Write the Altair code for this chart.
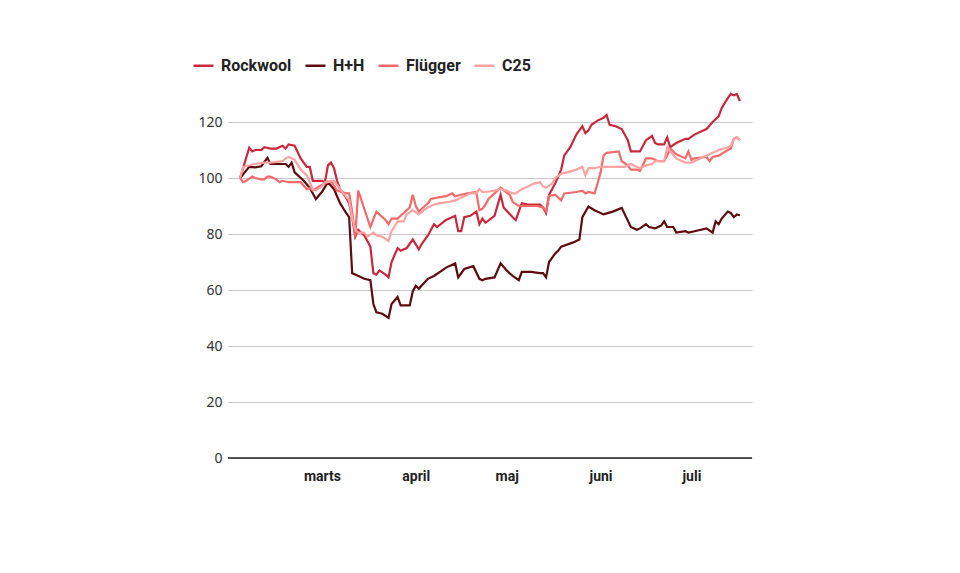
import altair as alt
import pandas as pd

series_names = ["Rockwool", "H+H", "Flügger", "C25"]
series_colors = ["#c8283c", "#5e0b0f", "#f46a6a", "#fba3a3"]

month_labels = ["jan", "feb", "marts", "april", "maj", "juni", "juli"]

rockwool_dates = ["02-03", "02-06", "02-07", "02-08", "02-10", "02-11", "02-13", "02-15", "02-17", "02-18",
                  "02-19", "02-21", "02-23", "02-25", "02-26", "02-27", "03-01", "03-02", "03-03", "03-04",
                  "03-05", "03-06", "03-07", "03-09", "03-10", "03-11", "03-12", "03-13", "03-15", "03-17",
                  "03-18", "03-19", "03-20", "03-22", "03-23", "03-24", "03-26", "03-27", "03-29", "03-31",
                  "04-02", "04-03", "04-05", "04-07", "04-08", "04-11", "04-13", "04-14", "04-15", "04-16",
                  "04-17", "04-19", "04-21", "04-22", "04-23", "04-24", "04-27", "04-29", "04-30", "05-03",
                  "05-04", "05-06", "05-08", "05-12", "05-13", "05-14", "05-15", "05-17", "05-19", "05-20",
                  "05-22", "05-24", "05-26", "05-27", "05-28", "05-29", "05-31", "06-02", "06-03", "06-04",
                  "06-06", "06-08", "06-10", "06-11", "06-12", "06-14", "06-16", "06-18", "06-19", "06-20",
                  "06-22", "06-23", "06-24", "06-26", "06-29", "06-30", "07-02", "07-04", "07-06", "07-08",
                  "07-10", "07-11", "07-13", "07-14", "07-15", "07-16", "07-17"]
rockwool_values = [100, 110.8, 109.5, 110, 110, 111, 110.5, 110.5, 111.5, 110.5,
                   112, 111.5, 107, 104, 104, 99, 99, 98.5, 104.5, 105.5,
                   103.5, 99, 96, 93, 91, 86, 79, 81.5, 79.5, 75.5,
                   66, 65.5, 67, 65.5, 64.5, 70, 75, 74, 75, 78,
                   74.5, 76.5, 79.5, 83.5, 82.5, 85, 86, 86.5, 81, 81,
                   86, 86.5, 88, 83.5, 85.5, 84, 86.5, 94, 89.5, 86,
                   85, 91, 90.5, 90.5, 89.5, 87.5, 94, 98, 103, 108,
                   111, 115.5, 118.5, 116, 117, 119, 120.5, 121.5, 122.5, 119,
                   118.5, 117.5, 113.5, 109.5, 109.5, 109.5, 113.5, 115, 112.5, 112,
                   112, 114.5, 111, 112.5, 114, 114, 115.5, 116.5, 117.5, 120,
                   122, 125, 128.5, 130, 129.5, 130, 127.5]

hh_dates = ["02-03", "02-06", "02-08", "02-10", "02-12", "02-13", "02-18", "02-19", "02-20", "02-21",
            "02-24", "02-26", "02-28", "03-01", "03-03", "03-05", "03-07", "03-09", "03-10", "03-11",
            "03-12", "03-15", "03-17", "03-18", "03-19", "03-21", "03-23", "03-24", "03-26", "03-27",
            "03-30", "03-31", "04-01", "04-02", "04-05", "04-07", "04-11", "04-14", "04-15", "04-17",
            "04-20", "04-22", "04-23", "04-24", "04-27", "04-29", "05-01", "05-03", "05-05", "05-06",
            "05-09", "05-12", "05-13", "05-14", "05-15", "05-17", "05-18", "05-19", "05-23", "05-25",
            "05-26", "05-28", "05-30", "06-02", "06-05", "06-08", "06-09", "06-11", "06-13", "06-14",
            "06-16", "06-17", "06-19", "06-21", "06-22", "06-23", "06-25", "06-26", "06-29", "06-30",
            "07-02", "07-06", "07-08", "07-09", "07-10", "07-11", "07-13", "07-14", "07-15", "07-16",
            "07-17"]
hh_values = [100, 104, 103.8, 104.2, 107.2, 105, 105, 104, 105.5, 102,
             99, 96.5, 92.5, 95, 98.5, 96, 91, 87.5, 86, 66,
             65.5, 64, 63.5, 55, 52, 51.5, 50, 55, 57.5, 54.5,
             54.5, 59.5, 61.5, 60.5, 64, 65, 68, 69.5, 64.5, 67.5,
             68.5, 64, 63.5, 64, 64.5, 69.5, 67, 65, 63.5, 66.5,
             66.5, 66, 66, 64.5, 70, 73, 74, 75.5, 77, 78,
             86, 89.8, 88.5, 87, 88, 89.3, 87, 82.5, 81.5, 82,
             83.5, 82.5, 82, 83, 84.5, 82.5, 82.5, 80.5, 81, 80.5,
             81, 82, 80.5, 84.5, 83.5, 85.5, 88, 87.5, 86, 87,
             86.7]

flugger_dates = ["02-03", "02-04", "02-05", "02-07", "02-08", "02-10", "02-11", "02-12", "02-13", "02-15",
                 "02-16", "02-17", "02-19", "02-23", "02-25", "02-26", "02-27", "02-29", "03-02", "03-04",
                 "03-06", "03-09", "03-10", "03-11", "03-12", "03-13", "03-17", "03-19", "03-22", "03-23",
                 "03-24", "03-26", "03-27", "03-30", "03-31", "04-01", "04-02", "04-03", "04-05", "04-06",
                 "04-08", "04-11", "04-13", "04-14", "04-16", "04-18", "04-21", "04-22", "04-23", "04-24",
                 "04-25", "04-27", "04-29", "05-02", "05-03", "05-05", "05-08", "05-11", "05-13", "05-14",
                 "05-15", "05-17", "05-19", "05-20", "05-24", "05-26", "05-27", "05-28", "05-30", "05-31",
                 "06-01", "06-02", "06-03", "06-07", "06-08", "06-10", "06-11", "06-13", "06-14", "06-16",
                 "06-18", "06-20", "06-22", "06-23", "06-24", "06-26", "06-29", "06-30", "07-01", "07-02",
                 "07-06", "07-07", "07-08", "07-10", "07-13", "07-14", "07-15", "07-16", "07-17"]
flugger_values = [100, 98.5, 99, 100.5, 100, 99.5, 99.5, 100.5, 100.5, 99.5,
                  98.5, 99, 98.5, 98.5, 96, 96.5, 95.5, 97, 98, 99,
                  95.5, 94.5, 94.5, 88, 79, 95.5, 82.5, 88, 85, 83.5,
                  85.5, 85.5, 86.5, 89.5, 94, 90, 88, 89, 91, 92.5,
                  93, 93.5, 94.5, 93.5, 94, 94.5, 95, 88.5, 89, 90.5,
                  92.5, 94.5, 96.5, 94, 91.5, 90, 90, 90, 89.5, 88,
                  93.5, 94, 92, 94.5, 95, 95.5, 94.5, 95, 94.5, 98,
                  102, 108, 109, 109.5, 106, 104.5, 103, 103, 102.5, 107,
                  107, 106, 106, 108, 110.5, 108.5, 107, 109.5, 106.5, 107,
                  107.5, 106, 107.5, 108, 110, 110.5, 114, 114.5, 113.5]

c25_dates = ["02-03", "02-04", "02-08", "02-11", "02-13", "02-17", "02-18", "02-19", "02-21", "02-23",
             "02-25", "02-27", "02-28", "03-01", "03-02", "03-05", "03-07", "03-10", "03-11", "03-12",
             "03-13", "03-15", "03-16", "03-18", "03-19", "03-21", "03-23", "03-24", "03-26", "03-28",
             "03-29", "03-31", "04-02", "04-05", "04-07", "04-09", "04-12", "04-14", "04-17", "04-19",
             "04-21", "04-22", "04-23", "04-24", "04-27", "04-29", "05-01", "05-03", "05-04", "05-06",
             "05-08", "05-10", "05-12", "05-13", "05-14", "05-16", "05-17", "05-19", "05-21", "05-24",
             "05-25", "05-26", "05-27", "05-28", "05-30", "06-01", "06-05", "06-07", "06-09", "06-11",
             "06-12", "06-14", "06-16", "06-18", "06-19", "06-22", "06-23", "06-24", "06-26", "06-29",
             "07-01", "07-03", "07-06", "07-08", "07-10", "07-13", "07-14", "07-15", "07-16", "07-17"]
c25_values = [100, 104, 105, 105.5, 105.5, 106, 107, 107.5, 106.5, 103,
              101, 96, 95.5, 97, 98.5, 99, 96, 92, 86, 81.5,
              80.5, 80.5, 79, 80.5, 79.5, 79, 77.5, 81, 84.5, 84.5,
              87, 88.5, 87, 89.5, 90.5, 91, 91.5, 92, 93.5, 94.5,
              94.5, 96, 95, 95, 95.5, 96, 95.5, 94.5, 94.5, 96,
              97, 98, 98.5, 97, 96.5, 98, 100, 101.5, 102, 103,
              103.5, 104, 101, 103.5, 103.5, 104, 104, 104, 104, 105,
              104.5, 103.5, 104.5, 105, 106, 106, 111, 109.5, 107, 105.5,
              105.5, 106.5, 108, 109, 110, 111, 111.5, 114, 114.5, 113.5]

y_ticks = [0, 20, 40, 60, 80, 100, 120]

rows = []
for name, dates, vals in [("Rockwool", rockwool_dates, rockwool_values),
                          ("H+H", hh_dates, hh_values),
                          ("Flügger", flugger_dates, flugger_values),
                          ("C25", c25_dates, c25_values)]:
    for i, (d, v) in enumerate(zip(dates, vals)):
        rows.append({"date": "2020-" + d, "value": v, "series": name, "i": i})
df = pd.DataFrame(rows)

label_expr = "[" + ",".join("'" + m + "'" for m in month_labels) + "][utcmonth(datum.value)]"

x_enc = alt.X(
    "date:T",
    scale=alt.Scale(type="utc",
                    domain=[alt.DateTime(year=2020, month=1, date=30, utc=True),
                            alt.DateTime(year=2020, month=7, date=21, utc=True)]),
    axis=alt.Axis(
        values=[alt.DateTime(year=2020, month=m, date=1, utc=True) for m in [3, 4, 5, 6, 7]],
        labelExpr=label_expr,
        title=None, domain=False, ticks=False, grid=False,
        labelFont="Roboto", labelFontWeight="bold", labelFontSize=14,
        labelColor="#222", labelPadding=11,
    ),
)

y_enc = alt.Y(
    "value:Q",
    scale=alt.Scale(domain=[0, 130], nice=False),
    axis=alt.Axis(
        values=y_ticks, title=None, domain=False, ticks=False,
        grid=True, gridColor="#c8c8c8", gridWidth=1,
        labelFont="Noto Sans", labelFontSize=14, labelColor="#333", labelPadding=6,
    ),
)

lines = alt.Chart(df).mark_line(strokeWidth=2.2, interpolate="linear").encode(
    x=x_enc,
    y=y_enc,
    order="i:Q",
    color=alt.Color(
        "series:N",
        sort=series_names,
        scale=alt.Scale(domain=series_names, range=series_colors),
        legend=alt.Legend(
            title=None, orient="none", legendX=-36, legendY=-40, direction="horizontal",
            symbolType="stroke", symbolSize=400, symbolStrokeWidth=2.5,
            labelFont="Roboto", labelFontWeight="bold", labelFontSize=16,
            labelColor="#222", labelOffset=6, columnPadding=8,
        ),
    ),
)

zero_rule = alt.Chart(pd.DataFrame({"v": [0]})).mark_rule(color="#222", strokeWidth=1.5).encode(
    y="v:Q"
)

chart = alt.layer(lines, zero_rule).properties(
    width=524, height=364,
    autosize=alt.AutoSizeParams(type="none"),
    padding={"left": 220, "top": 86, "right": 150, "bottom": 90},
    background="white",
).configure_view(stroke=None)

chart.save("out.html", embed_options={"renderer": "svg", "actions": False})
